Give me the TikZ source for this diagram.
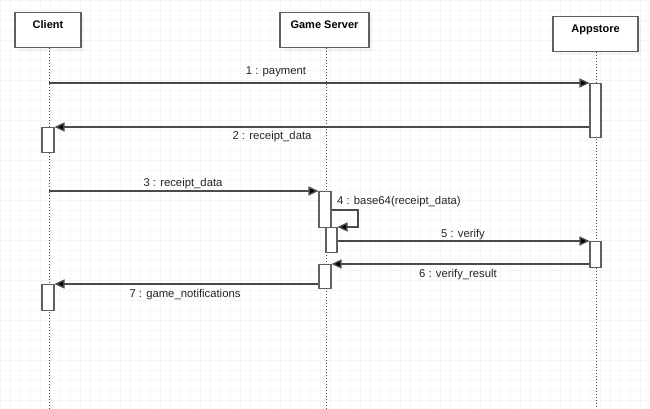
\documentclass[tikz,border=0pt]{standalone}
\usepackage{fontspec}
\setmainfont{Liberation Sans}
\usetikzlibrary{arrows.meta,shadows}
\definecolor{linegray}{HTML}{4A4A4A}
\definecolor{boxgray}{HTML}{606060}

\begin{document}
\begin{tikzpicture}[x=1pt,y=-1pt,
    head/.style={draw=boxgray,line width=1.1pt,fill=white,minimum height=35pt,inner sep=4pt,
                 text height=12pt,text depth=15pt,font=\fontsize{11pt}{13pt}\selectfont\bfseries,
                 drop shadow={opacity=0.07,shadow xshift=3pt,shadow yshift=-3pt}},
    act/.style={draw=boxgray,line width=1.1pt,fill=white,minimum width=11pt,inner sep=0pt,anchor=north},
    life/.style={draw=linegray,line width=1pt,dotted},
    msg/.style={draw=linegray,line width=1.4pt,-{Triangle[length=10pt,width=9pt,fill=black]}},
    lbl/.style={font=\fontsize{11.3pt}{13pt}\selectfont,text=black!85,inner sep=0pt}]
            \useasboundingbox (0,0) rectangle (650,409);
            \fill[white] (0,0) rectangle (650,409);
            \draw[black!4,line width=0.4pt] (0,0) grid[step=10pt] (650,409);

            \node (client) at (48,12) [head,anchor=north,minimum width=66pt] {Client};
            \node (server) at (324.5,12) [head,anchor=north,minimum width=89pt] {Game Server};
            \node (store) at (595.5,16) [head,anchor=north,minimum width=85pt] {Appstore};

            \coordinate (cend) at (49,409);
            \coordinate (send) at (326,409);
            \coordinate (aend) at (596,409);
            \draw[life] (client.south -| cend) -- (cend) (server.south -| send) -- (send) (store.south -| aend) -- (aend);

            \node (sa1) at (595.5,83) [act,minimum height=54pt] {};
            \node (ca1) at (48,127) [act,minimum width=12pt,minimum height=25pt] {};
            \node (gs1) at (325,191) [act,minimum width=12pt,minimum height=36pt] {};
            \node (gs2) at (331.5,227) [act,minimum height=25pt] {};
            \node (sa2) at (595.5,241) [act,minimum height=26pt] {};
            \node (gs3) at (325,264) [act,minimum width=12pt,minimum height=24pt] {};
            \node (ca2) at (48,284) [act,minimum width=12pt,minimum height=26pt] {};

            \coordinate (c1) at (49,83);
            \coordinate (c3) at (49,191);
            \coordinate (self) at (358,210);

            \draw[msg] (c1) -- (sa1.north west);
            \draw[msg] (sa1.west |- ca1.north) -- (ca1.north east);
            \draw[msg] (c3) -- (gs1.north west);
            \draw[msg] (gs1.east |- self) -- (self) -- (self |- gs2.north) -- (gs2.north east);
            \draw[msg] (gs2.east |- sa2.north) -- (sa2.north west);
            \draw[msg] (sa2.west |- gs3.north) -- (gs3.north east);
            \draw[msg] (gs3.west |- ca2.north) -- (ca2.north east);

            \node (m1) at (276,72) [lbl] {1 : payment};
            \node (m2) at (272,137) [lbl] {2 : receipt\_data};
            \node (m3) at (183,184) [lbl] {3 : receipt\_data};
            \node (m4) at (337,202) [lbl,anchor=west] {4 : base64(receipt\_data)};
            \node (m5) at (463,235) [lbl] {5 : verify};
            \node (m6) at (458,275) [lbl] {6 : verify\_result};
            \node (m7) at (185,295) [lbl] {7 : game\_notifications};

        \end{tikzpicture}
\end{document}
